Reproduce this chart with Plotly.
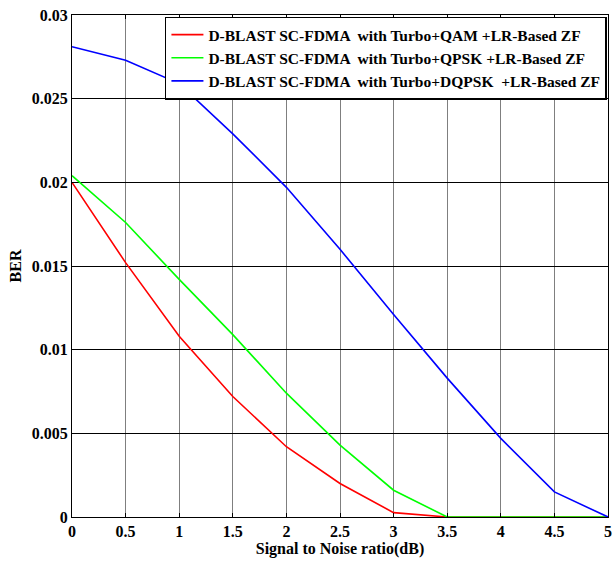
import plotly.graph_objects as go

snr = [0, 0.5, 1, 1.5, 2, 2.5, 3, 3.5, 4, 4.5, 5]
ber_qam = [0.0200, 0.0152, 0.0108, 0.0072, 0.0042, 0.0020, 0.00026, 0, 0, 0, 0]
ber_qpsk = [0.0204, 0.0176, 0.0142, 0.0109, 0.0074, 0.0043, 0.0016, 0, 0, 0, 0]
ber_dqpsk = [0.0281, 0.0273, 0.0259, 0.0229, 0.0197, 0.0160, 0.0121, 0.0083, 0.0047, 0.0015, 0]

names = [
    "D-BLAST SC-FDMA  with Turbo+QAM +LR-Based ZF",
    "D-BLAST SC-FDMA  with Turbo+QPSK +LR-Based ZF",
    "D-BLAST SC-FDMA  with Turbo+DQPSK  +LR-Based ZF",
]
colors = ["#ff0000", "#00ff00", "#0000ff"]
x_ticks = [0, 0.5, 1, 1.5, 2, 2.5, 3, 3.5, 4, 4.5, 5]
x_tick_labels = ["0", "0.5", "1", "1.5", "2", "2.5", "3", "3.5", "4", "4.5", "5"]
y_ticks = [0, 0.005, 0.01, 0.015, 0.02, 0.025, 0.03]
y_tick_labels = ["0", "0.005", "0.01", "0.015", "0.02", "0.025", "0.03"]

font = "Liberation Serif, Times New Roman, serif"
fig = go.Figure()
for ys, nm, c in zip([ber_qam, ber_qpsk, ber_dqpsk], names, colors):
    fig.add_trace(go.Scatter(x=snr, y=ys, mode="lines", name=nm,
                             line=dict(color=c, width=1.6)))

fig.update_layout(
    width=613, height=561,
    margin=dict(l=72, r=5, t=15, b=44),
    paper_bgcolor="white", plot_bgcolor="white",
    font=dict(family=font, size=16, color="black"),
    legend=dict(x=0.998, y=0.997, xanchor="right", yanchor="top",
                bordercolor="black", borderwidth=1.5, bgcolor="white",
                font=dict(family=font, size=15.5, color="black", weight="bold"),
                tracegroupgap=0, itemwidth=32),
)
fig.update_xaxes(
    range=[0, 5], tickvals=x_ticks, ticktext=x_tick_labels,
    showgrid=True, gridcolor="#7f7f7f", gridwidth=1,
    showline=True, linecolor="black", linewidth=1, mirror="ticks",
    ticks="inside", ticklen=4, tickcolor="black",
    zeroline=False, automargin=False,
    tickfont=dict(family=font, size=16, weight="bold"),
    title=dict(text="Signal to Noise ratio(dB)", standoff=2,
               font=dict(family=font, size=16, weight="bold")),
)
fig.update_yaxes(
    range=[0, 0.03], tickvals=y_ticks, ticktext=y_tick_labels,
    showgrid=True, gridcolor="black", gridwidth=1,
    showline=True, linecolor="black", linewidth=1, mirror="ticks",
    ticks="inside", ticklen=4, tickcolor="black",
    zeroline=False, automargin=False,
    tickfont=dict(family=font, size=16, weight="bold"),
    title=dict(text="BER", standoff=6,
               font=dict(family=font, size=16, weight="bold")),
)
fig.write_html("out.html", config={"displayModeBar": False},
               post_script="document.body.style.margin='0';")
